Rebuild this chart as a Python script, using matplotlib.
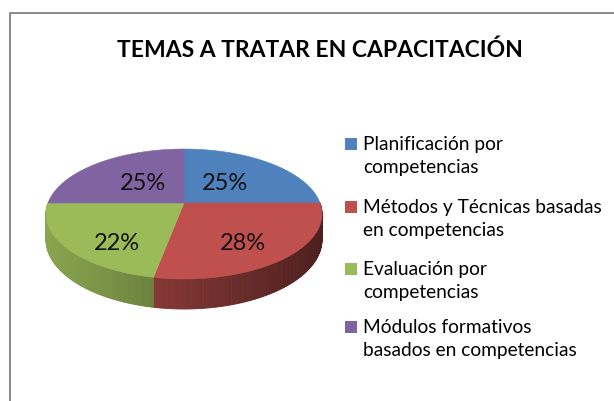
import numpy as np
import matplotlib
matplotlib.use("Agg")
import matplotlib.pyplot as plt
from matplotlib.patches import Polygon, Rectangle
from matplotlib.colors import to_rgb

# ── Data ─────────────────────────────────────────────────────────────────────
title = "TEMAS A TRATAR EN CAPACITACIÓN"
categories = [
    "Planificación por\ncompetencias",
    "Métodos y Técnicas basadas\nen competencias",
    "Evaluación por\ncompetencias",
    "Módulos formativos\nbasados en competencias",
]
values = [25, 28, 22, 25]
colors = ["#4F81BD", "#C0504D", "#9BBB59", "#8064A2"]

# label placement (radius on top face, drop into the side) per slice
label_r = [0.45, 0.62, 0.60, 0.45]
label_z = [0.0, 0.27, 0.55, 0.0]

FONT = ["Lato", "DejaVu Sans"]

# ── Geometry (pixel space) ───────────────────────────────────────────────────
W, H = 614, 401
cx, cy = 184, 203        # centre of top face
A, B = 136, 63.1         # semi-axes before perspective
K = 0.169                # perspective strength
D = 25                   # side depth


def proj(t, r=1.0, z=0.0):
    """t: angle clockwise from 12 o'clock (rad)."""
    u = r * np.sin(t)
    v = r * np.cos(t)
    w = 1.0 / (1.0 + K * v)
    return cx + A * u * w, cy - B * v * w + D * w * z


fig = plt.figure(figsize=(W / 100, H / 100), dpi=100, facecolor="white")
ax = fig.add_axes([0, 0, 1, 1])
ax.set_xlim(0, W)
ax.set_ylim(H, 0)
ax.axis("off")

# chart frame (cropped on right/bottom)
ax.plot([10, 10, W + 5], [H + 5, 13, 13], color="#8a8a8a", lw=1.4,
        solid_capstyle="butt")

fracs = np.array(values) / np.sum(values)
edges = np.concatenate([[0], np.cumsum(fracs)]) * 2 * np.pi

# ── Sides (front half only) ──────────────────────────────────────────────────
x_left, x_right = cx - A, cx + A
for i, col in enumerate(colors):
    t0, t1 = edges[i], edges[i + 1]
    lo, hi = max(t0, np.pi / 2), min(t1, 3 * np.pi / 2)
    if hi <= lo:
        continue
    ts = np.linspace(lo, hi, 120)
    base = np.array(to_rgb(col))
    for a, b in zip(ts[:-1], ts[1:]):
        xa, ya = proj(a)
        xb, yb = proj(b)
        xa2, ya2 = proj(a, z=1)
        xb2, yb2 = proj(b, z=1)
        xm = 0.5 * (xa + xb)
        f = 0.88 - 0.48 * (xm - x_left) / (x_right - x_left)
        c = np.clip(base * f, 0, 1)
        ax.add_patch(Polygon([(xa, ya), (xb, yb), (xb2, yb2), (xa2, ya2)],
                             closed=True, facecolor=c, edgecolor=c, lw=0.6))

# ── Top face ─────────────────────────────────────────────────────────────────
for i, col in enumerate(colors):
    ts = np.linspace(edges[i], edges[i + 1], 200)
    pts = [proj(t) for t in ts]
    pts = [(cx, cy)] + pts
    ax.add_patch(Polygon(pts, closed=True, facecolor=col, edgecolor=col, lw=0.4))

# ── Percent labels ───────────────────────────────────────────────────────────
for i, v in enumerate(values):
    tm = 0.5 * (edges[i] + edges[i + 1])
    x, y = proj(tm, r=label_r[i], z=label_z[i])
    ax.text(x, y, f"{v}%", ha="center", va="center", fontsize=17,
            family=FONT, color="#111111")

# ── Title ────────────────────────────────────────────────────────────────────
ax.text(320, 50, title, ha="center", va="center", fontsize=16.5,
        fontweight="bold", family=FONT, color="black")

# ── Legend ───────────────────────────────────────────────────────────────────
leg_y = [145, 208, 270, 328]
for lab, col, y in zip(categories, colors, leg_y):
    ax.add_patch(Rectangle((345, y - 7), 12, 12, facecolor=col, edgecolor="none"))
    ax.text(363, y - 9, lab, ha="left", va="top", fontsize=13.8,
            family=FONT, color="black", linespacing=1.42)

fig.savefig("out.png", dpi=100, facecolor="white")
